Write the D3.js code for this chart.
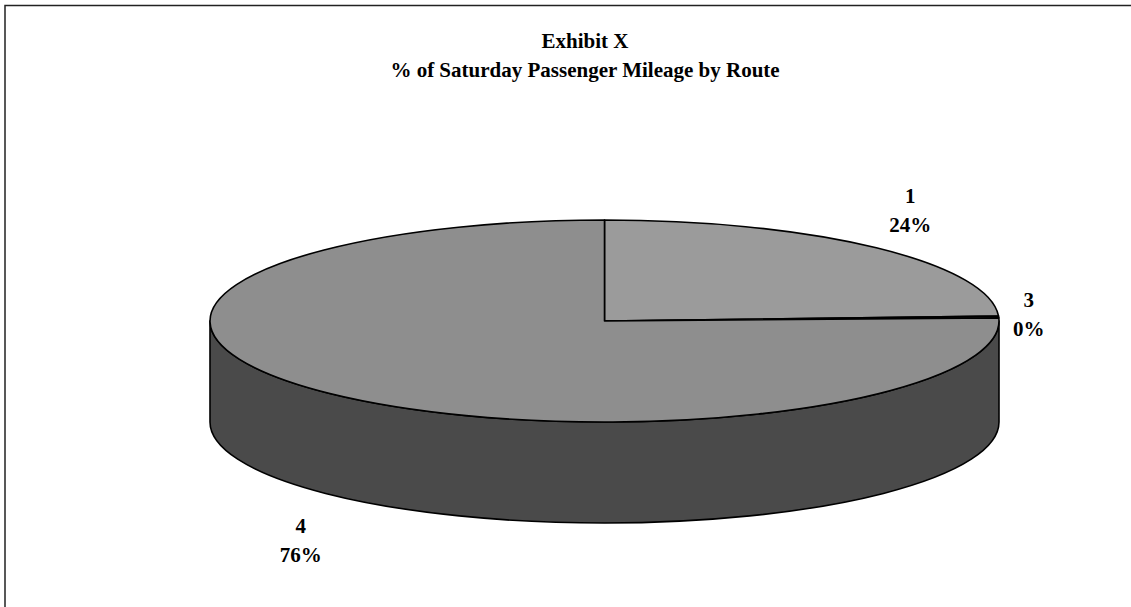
<!DOCTYPE html>
<html>
<head>
<meta charset="utf-8">
<script src="https://cdn.jsdelivr.net/npm/d3@7"></script>
<style>
  html, body { margin: 0; padding: 0; background: #fff; }
  svg { display: block; }
  text { font-family: "Liberation Serif", "Times New Roman", serif; font-weight: bold; fill: #000; }
</style>
</head>
<body>
<svg id="chart" width="1131" height="607"></svg>
<script>
// Saturday passenger mileage share by route
const routes = ["1", "3", "4"];
const shares = [24.2, 0.3, 75.5];
const shareLabels = ["24%", "0%", "76%"];
const sliceColors = ["#9b9b9b", "#a8a8a8", "#8e8e8e"];
const sideColors = ["#4d4d4d", "#555555", "#4a4a4a"];
const titleLines = ["Exhibit X", "% of Saturday Passenger Mileage by Route"];

const W = 1131, H = 607;
const svg = d3.select("#chart");

// frame around the chart area
svg.append("path")
  .attr("d", `M5,${H} V5.5 H${W}`)
  .attr("fill", "none")
  .attr("stroke", "#222")
  .attr("stroke-width", 1.5);

// title
const title = svg.append("text")
  .attr("text-anchor", "middle")
  .attr("font-size", 21);
title.selectAll("tspan").data(titleLines).join("tspan")
  .attr("x", 585)
  .attr("y", (d, i) => 48 + i * 29)
  .text(d => d);

// 3D pie geometry: ellipse top face plus a cylindrical side wall
const cx = 604.5, cy = 321, rx = 394.5, ry = 101, depth = 101;

const pie = d3.pie().sort(null).value(d => d.value).startAngle(0).endAngle(2 * Math.PI);
const data = routes.map((r, i) => ({ route: r, value: shares[i], label: shareLabels[i], color: sliceColors[i], side: sideColors[i] }));
const arcs = pie(data);

// angle measured clockwise from 12 o'clock, projected onto the ellipse
const pt = (a, dy = 0) => [cx + rx * Math.sin(a), cy - ry * Math.cos(a) + dy];

function topPath(d) {
  const [x0, y0] = pt(d.startAngle);
  const [x1, y1] = pt(d.endAngle);
  const large = (d.endAngle - d.startAngle) > Math.PI ? 1 : 0;
  return `M${cx},${cy} L${x0},${y0} A${rx},${ry} 0 ${large} 1 ${x1},${y1} Z`;
}

function sidePath(d) {
  const a = Math.max(d.startAngle, Math.PI / 2);
  const b = Math.min(d.endAngle, 3 * Math.PI / 2);
  if (b <= a) return null;
  const [x0, y0] = pt(a);
  const [x1, y1] = pt(b);
  const [x2, y2] = pt(b, depth);
  const [x3, y3] = pt(a, depth);
  const large = (b - a) > Math.PI ? 1 : 0;
  return `M${x0},${y0} A${rx},${ry} 0 ${large} 1 ${x1},${y1} L${x2},${y2} A${rx},${ry} 0 ${large} 0 ${x3},${y3} Z`;
}

const g = svg.append("g");

g.selectAll("path.side")
  .data(arcs.filter(d => sidePath(d) !== null))
  .join("path")
  .attr("class", "side")
  .attr("d", sidePath)
  .attr("fill", d => d.data.side)
  .attr("stroke", "#000")
  .attr("stroke-width", 1.6)
  .attr("stroke-linejoin", "round");

g.selectAll("path.top")
  .data(arcs)
  .join("path")
  .attr("class", "top")
  .attr("d", topPath)
  .attr("fill", d => d.data.color)
  .attr("stroke", "#000")
  .attr("stroke-width", 1.6)
  .attr("stroke-linejoin", "round");

// data labels: placed outward from each slice's mid angle
const labelNudge = { "1": [3, -4], "3": [-15, 0], "4": [2, 14] };
const labels = svg.append("g").attr("font-size", 21).attr("text-anchor", "middle");
arcs.forEach(d => {
  const mid = (d.startAngle + d.endAngle) / 2;
  const front = Math.cos(mid) < 0 ? depth : 0;
  const x = cx + (rx + 45) * Math.sin(mid) + labelNudge[d.data.route][0];
  const y = cy - (ry + 45) * Math.cos(mid) + front + labelNudge[d.data.route][1];
  const t = labels.append("text");
  t.append("tspan").attr("x", x).attr("y", y - 8).text(d.data.route);
  t.append("tspan").attr("x", x).attr("y", y + 21).text(d.data.label);
});
</script>
</body>
</html>
